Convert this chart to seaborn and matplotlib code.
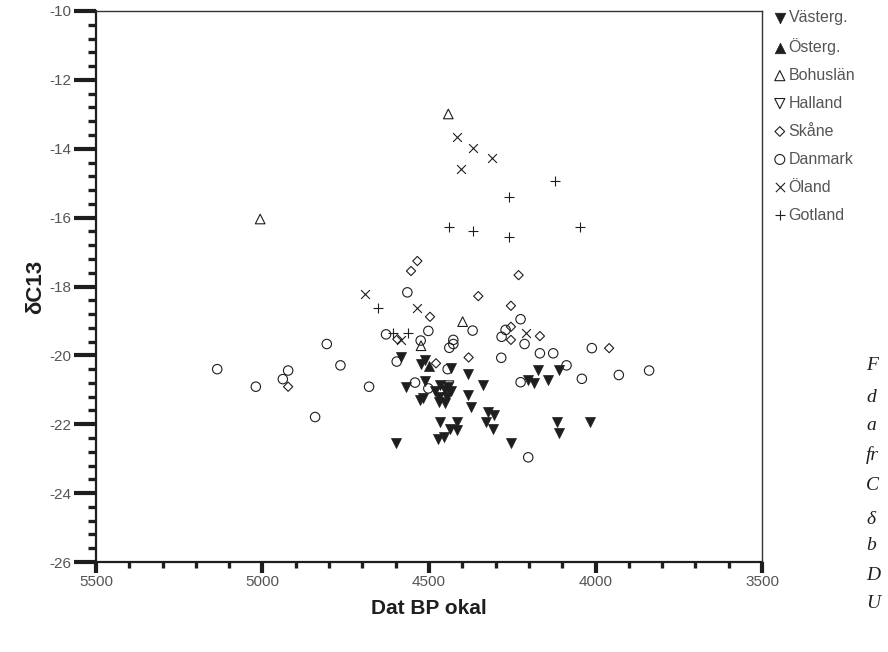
import matplotlib
matplotlib.use("Agg")
import matplotlib.pyplot as plt
import seaborn as sns
from matplotlib.ticker import MultipleLocator

# ---- data ----
vasterg_x = [4584, 4524, 4512, 4434, 4383, 4338, 4569, 4512, 4467, 4443,
             4482, 4452, 4434, 4470, 4446, 4470, 4452, 4527, 4518, 4383,
             4374, 4323, 4305, 4467, 4416, 4329, 4437, 4416, 4308, 4473,
             4455, 4599, 4254, 4173, 4110, 4203, 4185, 4143, 4116, 4110, 4017]
vasterg_y = [-20.05, -20.25, -20.13, -20.37, -20.54, -20.86, -20.92, -20.74, -20.86, -20.92,
             -21.03, -21.00, -21.03, -21.21, -21.21, -21.35, -21.38, -21.30, -21.24, -21.15,
             -21.50, -21.64, -21.73, -21.93, -21.93, -21.93, -22.14, -22.16, -22.14, -22.43,
             -22.37, -22.54, -22.54, -20.42, -20.42, -20.71, -20.80, -20.71, -21.93, -22.25, -21.93]
osterg_x = [4500]
osterg_y = [-20.31]
bohuslan_x = [5007, 4442, 4399, 4524]
bohuslan_y = [-16.04, -12.99, -19.02, -19.72]
halland_x = [4440]
halland_y = [-20.88]
skane_x = [4535, 4554, 4231, 4352, 4497, 4254, 4254, 4254, 4595, 4479, 4381, 4923, 4167, 3959]
skane_y = [-17.26, -17.55, -17.67, -18.28, -18.88, -18.56, -19.17, -19.55, -19.53, -20.23,
           -20.06, -20.91, -19.44, -19.79]
danmark_x = [5136, 5020, 4923, 4939, 4807, 4766, 4842, 4680, 4565, 4629, 4502, 4525,
             4427, 4427, 4439, 4369, 4597, 4542, 4502, 4444, 4225, 4270, 4282, 4213,
             4283, 4167, 4127, 4087, 4011, 4225, 4041, 3930, 3839, 4202]
danmark_y = [-20.40, -20.91, -20.44, -20.69, -19.67, -20.29, -21.79, -20.91, -18.17, -19.39,
             -19.29, -19.57, -19.55, -19.67, -19.78, -19.28, -20.18, -20.79, -20.96, -20.40,
             -18.95, -19.26, -19.46, -19.67, -20.07, -19.94, -19.94, -20.29, -19.79, -20.78,
             -20.68, -20.57, -20.44, -22.96]
oland_x = [4415, 4369, 4311, 4404, 4692, 4537, 4585, 4209]
oland_y = [-13.65, -13.99, -14.28, -14.60, -18.23, -18.61, -19.55, -19.34]
gotland_x = [4121, 4260, 4439, 4369, 4260, 4047, 4652, 4607, 4564]
gotland_y = [-14.94, -15.39, -16.28, -16.39, -16.55, -16.26, -18.61, -19.34, -19.34]

labels = ["Västerg.", "Österg.", "Bohuslän", "Halland", "Skåne", "Danmark", "Öland", "Gotland"]
caption_frags = ["F", "d", "a", "fr", "C", "δ", "b", "D", "U"]

sns.set_theme(style="white")
plt.rcParams['font.family'] = ['Liberation Sans', 'DejaVu Sans']
plt.rcParams['axes.unicode_minus'] = False

ink = "#1e1e1e"
fig = plt.figure(figsize=(8.88, 6.52), dpi=100)
ax = fig.add_axes([96 / 888, 1 - 562 / 652, (762 - 96) / 888, (562 - 11) / 652])

series = [
    (vasterg_x, vasterg_y, "v", True, 52),
    (osterg_x, osterg_y, "^", True, 52),
    (bohuslan_x, bohuslan_y, "^", False, 48),
    (halland_x, halland_y, "v", False, 48),
    (skane_x, skane_y, "D", False, 22),
    (danmark_x, danmark_y, "o", False, 46),
    (oland_x, oland_y, "x", None, 40),
    (gotland_x, gotland_y, "+", None, 44),
]

for (xs, ys, mk, filled, s), lab in zip(series, labels):
    if filled is True:
        sns.scatterplot(x=xs, y=ys, marker=mk, s=s, color=ink, edgecolor=ink,
                        linewidth=0.5, ax=ax, label=lab, zorder=3)
    elif filled is False:
        sns.scatterplot(x=xs, y=ys, marker=mk, s=s, facecolor="none", edgecolor=ink,
                        linewidth=0.8, ax=ax, label=lab, zorder=3)
    else:
        sns.scatterplot(x=xs, y=ys, marker=mk, s=s, color=ink,
                        linewidth=0.8, ax=ax, label=lab, zorder=3)

ax.set_xlim(5500, 3500)
ax.set_ylim(-26, -10)
ax.xaxis.set_major_locator(MultipleLocator(500))
ax.xaxis.set_minor_locator(MultipleLocator(100))
ax.yaxis.set_major_locator(MultipleLocator(2))
ax.yaxis.set_minor_locator(MultipleLocator(0.4))

for side in ["left", "bottom"]:
    ax.spines[side].set_linewidth(1.6)
    ax.spines[side].set_color(ink)
for side in ["top", "right"]:
    ax.spines[side].set_linewidth(1.0)
    ax.spines[side].set_color("#333333")

ax.tick_params(axis="y", which="major", direction="out", length=16, width=3.0,
               color=ink, labelsize=11, labelcolor="#555555", pad=2, left=True)
ax.tick_params(axis="y", which="minor", direction="out", length=6, width=2.4,
               color=ink, left=True)
ax.tick_params(axis="x", which="major", direction="out", length=8, width=3.0,
               color=ink, labelsize=11, labelcolor="#555555", pad=1.5, bottom=True)
ax.tick_params(axis="x", which="minor", direction="out", length=4, width=2.4,
               color=ink, bottom=True)

ax.set_xlabel("Dat BP okal", fontsize=15, fontweight="bold", color=ink, labelpad=7)
ax.set_ylabel("δC13", fontsize=16, fontweight="bold", color=ink, labelpad=2)

leg = ax.legend(loc="upper left", bbox_to_anchor=(775 / 888, 1 - 10 / 652),
                bbox_transform=fig.transFigure, frameon=False, fontsize=11.5,
                handlelength=0.6, handletextpad=0.25, labelspacing=0.81,
                borderaxespad=0, borderpad=0, markerscale=1.05)
for t in leg.get_texts():
    t.set_color("#555555")

caption_y = [366, 397, 425, 455, 485, 519, 546, 576, 603]
for frag, yy in zip(caption_frags, caption_y):
    fig.text(866 / 888, 1 - yy / 652, frag, fontsize=14, style="italic",
             family=["Liberation Serif", "DejaVu Serif"], color=ink,
             ha="left", va="center")

fig.savefig("out.png", dpi=100)
